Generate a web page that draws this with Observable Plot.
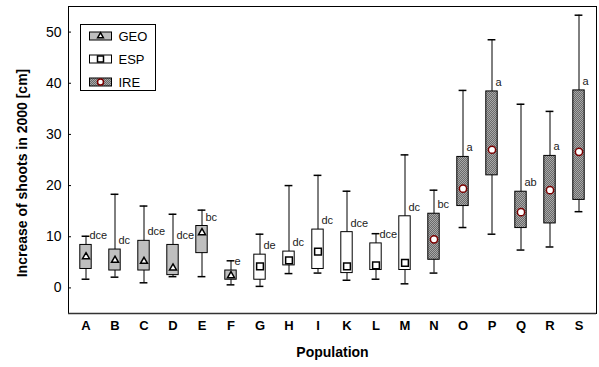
<!DOCTYPE html>
<html>
<head>
<meta charset="utf-8">
<script src="https://cdn.jsdelivr.net/npm/d3@7"></script>
<script src="https://cdn.jsdelivr.net/npm/@observablehq/plot@0.6"></script>
<style>
  html, body { margin: 0; padding: 0; background: #fff; }
</style>
</head>
<body>
<div id="chart"></div>
<script>
const categories = ["A","B","C","D","E","F","G","H","I","K","L","M","N","O","P","Q","R","S"];
const groups     = ["GEO","GEO","GEO","GEO","GEO","GEO","ESP","ESP","ESP","ESP","ESP","ESP","IRE","IRE","IRE","IRE","IRE","IRE"];
const whiskerLow = [1.7, 2.1, 1.0, 2.2, 2.2, 0.6, 0.3, 2.8, 2.9, 1.5, 1.7, 0.8, 2.9, 11.8, 10.5, 7.4, 8.0, 14.9];
const q1         = [3.7, 3.4, 3.4, 2.5, 6.8, 1.6, 1.6, 4.4, 3.7, 2.9, 3.5, 3.5, 5.5, 16.0, 22.0, 11.7, 12.6, 17.2];
const center     = [6.1, 5.4, 5.2, 3.9, 10.8, 2.4, 4.2, 5.4, 7.1, 4.2, 4.4, 4.9, 9.5, 19.4, 27.0, 14.8, 19.1, 26.6];
const q3         = [8.4, 7.5, 9.2, 8.4, 12.1, 3.4, 6.5, 7.1, 11.4, 10.9, 8.7, 14.0, 14.5, 25.6, 38.4, 18.8, 25.8, 38.6];
const whiskerHigh= [10.1, 18.3, 16.0, 14.4, 15.2, 5.3, 10.5, 20.0, 22.0, 18.9, 10.6, 26.0, 19.1, 38.6, 48.5, 35.9, 34.5, 53.3];
const letters    = ["dce","dc","dce","dce","bc","e","de","dc","dc","dce","dce","dc","bc","a","a","ab","a","a"];
const yTicks = [0, 10, 20, 30, 40, 50];
const legendGroups = ["GEO", "ESP", "IRE"];

const data = categories.map((c, i) => ({
  cat: c, group: groups[i], lo: whiskerLow[i], q1: q1[i], mid: center[i],
  q3: q3[i], hi: whiskerHigh[i], letter: letters[i]
}));

const FONT = "'Liberation Sans', Arial, Helvetica, sans-serif";
const fills = {GEO: "#bfbfbf", ESP: "#ffffff", IRE: "url(#irePat)"};
const symbols = {GEO: "triangle", ESP: "square", IRE: "circle"};
const sizes = {GEO: 2.6, ESP: 3.8, IRE: 3.6};
const strokes = {GEO: "#000", ESP: "#000", IRE: "#7a0000"};

const boxMarks = legendGroups.map(g =>
  Plot.barY(data.filter(d => d.group === g), {
    x: "cat", y1: "q1", y2: "q3", fill: fills[g], stroke: "#000", strokeWidth: 1,
    insetLeft: 8.8, insetRight: 8.8
  })
);
const dotMarks = legendGroups.map(g =>
  Plot.dot(data.filter(d => d.group === g), {
    x: "cat", y: "mid", symbol: symbols[g], r: sizes[g], fill: "#fff",
    stroke: strokes[g], strokeWidth: 1.5
  })
);

const chart = Plot.plot({
  width: 599,
  height: 367,
  marginLeft: 68,
  marginRight: 3,
  marginTop: 6,
  marginBottom: 54,
  style: {fontFamily: FONT, fontSize: "13px", background: "#fff", color: "#000"},
  x: {type: "band", domain: categories, padding: 0, axis: null},
  y: {domain: [-5, 55], axis: null},
  marks: [
    Plot.axisY({ticks: yTicks, tickSize: -3, tickPadding: 10, label: null, fontSize: 14}),
    Plot.axisX({tickSize: 0, tickPadding: 7, label: null, fontSize: 13, fontWeight: "bold"}),
    Plot.ruleX(data, {x: "cat", y1: "lo", y2: "hi", stroke: "#000", strokeWidth: 1}),
    Plot.tickY(data, {x: "cat", y: "hi", stroke: "#000", strokeWidth: 1.5, insetLeft: 10.6, insetRight: 10.6}),
    Plot.tickY(data, {x: "cat", y: "lo", stroke: "#000", strokeWidth: 1.5, insetLeft: 10.6, insetRight: 10.6}),
    ...boxMarks,
    ...dotMarks,
    Plot.text(data, {x: "cat", y: "q3", text: "letter", textAnchor: "start", dx: 3.5, dy: -9,
      fontSize: 11, fill: "#222"}),
    Plot.frame({stroke: "#000", strokeWidth: 1}),
    Plot.ruleY([-5], {stroke: "#333", strokeWidth: 1.5}),
    Plot.text(["Increase of shoots in 2000 [cm]"], {frameAnchor: "left", textAnchor: "middle", rotate: -90,
      dx: -46, dy: 13, fontSize: 14, fontWeight: "bold"}),
    Plot.text(["Population"], {frameAnchor: "bottom", dy: 43, fontSize: 14, fontWeight: "bold"})
  ]
});

document.getElementById("chart").appendChild(chart);

// pattern + legend
const svg = d3.select(chart.tagName.toLowerCase() === "svg" ? chart : chart.querySelector("svg"));
const defs = svg.insert("defs", ":first-child");
const pat = defs.append("pattern").attr("id", "irePat").attr("patternUnits", "userSpaceOnUse")
  .attr("width", 2).attr("height", 2);
pat.append("rect").attr("width", 2).attr("height", 2).attr("fill", "#6a6a6a");
pat.append("rect").attr("width", 1).attr("height", 1).attr("fill", "#a8a8a8");
pat.append("rect").attr("x", 1).attr("y", 1).attr("width", 1).attr("height", 1).attr("fill", "#a8a8a8");

const lg = svg.append("g").attr("font-family", FONT).attr("font-size", 13).attr("text-anchor", "start");
lg.append("rect").attr("x", 80.5).attr("y", 24.5).attr("width", 75).attr("height", 66)
  .attr("fill", "#fff").attr("stroke", "#000");
legendGroups.forEach((g, i) => {
  const cy = 36 + i * 23;
  lg.append("rect").attr("x", 89.5).attr("y", cy - 4).attr("width", 22).attr("height", 8)
    .attr("fill", fills[g]).attr("stroke", "#000");
  const sym = d3.symbol().type(g === "GEO" ? d3.symbolTriangle : g === "ESP" ? d3.symbolSquare : d3.symbolCircle)
    .size(g === "GEO" ? 14 : g === "ESP" ? 36 : 28);
  lg.append("path").attr("d", sym()).attr("transform", `translate(100.5,${cy})`)
    .attr("fill", "#fff").attr("stroke", strokes[g]).attr("stroke-width", 1.5);
  lg.append("text").attr("x", 118.5).attr("y", cy + 4.5).attr("text-anchor", "start").text(g);
});
</script>
</body>
</html>
